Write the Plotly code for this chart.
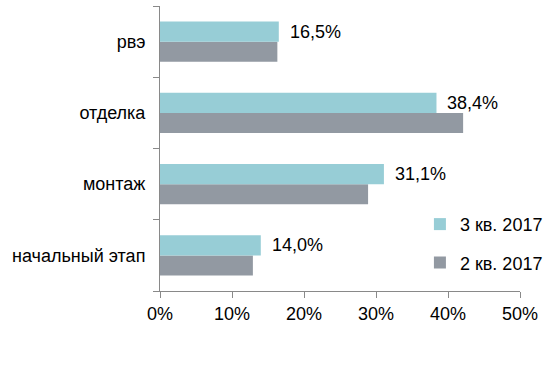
import plotly.graph_objects as go

categories = ["начальный этап", "монтаж", "отделка", "рвэ"]
q3_2017 = [14.0, 31.1, 38.4, 16.5]
q2_2017 = [12.9, 28.9, 42.1, 16.3]
x_tick_values = [0, 10, 20, 30, 40, 50]
x_tick_labels = ["0%", "10%", "20%", "30%", "40%", "50%"]

font_family = "Liberation Sans, Arial, sans-serif"
axis_color = "#898989"

fig = go.Figure()
fig.add_trace(go.Bar(
    y=categories, x=q2_2017, name="2 кв. 2017", orientation="h",
    marker=dict(color="#9299A2", line=dict(width=0)), legendgroup="b", legendrank=2,
))
fig.add_trace(go.Bar(
    y=categories, x=q3_2017, name="3 кв. 2017", orientation="h",
    marker=dict(color="#97CDD6", line=dict(width=0)), legendgroup="a", legendrank=1,
))

for cat, val in zip(categories, q3_2017):
    fig.add_annotation(
        x=val, y=cat, text=f"{val:.1f}".replace(".", ",") + "%",
        xanchor="left", yanchor="middle", xshift=9, yshift=10,
        showarrow=False, font=dict(size=18, color="#000000", family=font_family),
    )

fig.update_layout(
    width=552, height=365,
    margin=dict(l=160, r=32, t=6, b=74, autoexpand=False),
    paper_bgcolor="white", plot_bgcolor="white",
    barmode="group", bargap=0.437, bargroupgap=0,
    font=dict(family=font_family, size=18, color="#000000"),
    showlegend=True,
    legend=dict(
        x=0.722, xanchor="left", y=0.167, yanchor="middle",
        traceorder="grouped", tracegroupgap=12,
        font=dict(size=18, family=font_family),
        bgcolor="rgba(0,0,0,0)", borderwidth=0,
    ),
    xaxis=dict(
        range=[0, 50], tickmode="array", tickvals=x_tick_values, ticktext=x_tick_labels,
        showgrid=False, zeroline=False, automargin=False,
        showline=True, linecolor=axis_color, linewidth=1,
        ticks="outside", ticklen=6, tickcolor=axis_color,
        tickfont=dict(size=18), fixedrange=True,
    ),
    yaxis=dict(
        type="category", categoryorder="array", categoryarray=categories,
        showgrid=False, zeroline=False, automargin=False,
        showline=True, linecolor=axis_color, linewidth=1,
        ticks="outside", ticklen=6, tickcolor=axis_color,
        tickson="boundaries", ticklabelstandoff=10,
        tickfont=dict(size=18), fixedrange=True,
    ),
)

fig.write_html("out.html", config={"displayModeBar": False},
               post_script="document.body.style.margin='0';")
